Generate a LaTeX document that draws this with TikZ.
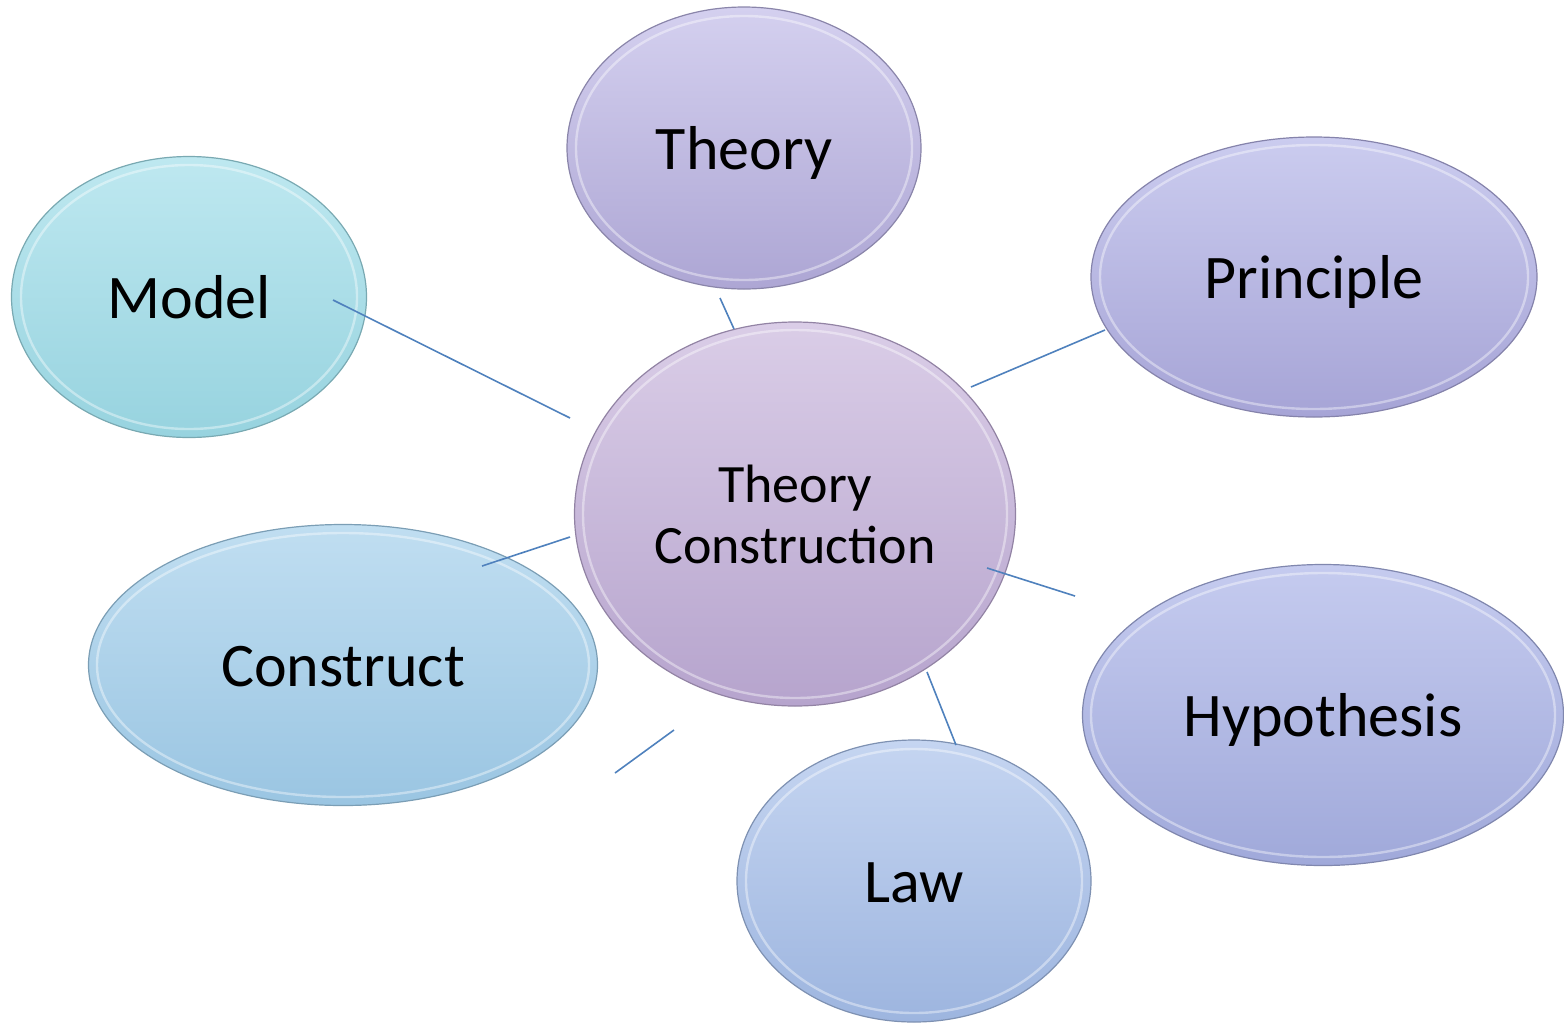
\documentclass[tikz,border=0pt]{standalone}
\usepackage{fontspec}
\setmainfont{Carlito}
\usetikzlibrary{shapes.geometric}
\definecolor{linkblue}{HTML}{4F81BD}
\definecolor{thT}{HTML}{D4D0EF}\definecolor{thB}{HTML}{ADA6D4}
\definecolor{moT}{HTML}{BEE8F0}\definecolor{moB}{HTML}{97D3DF}
\definecolor{prT}{HTML}{CBCCEF}\definecolor{prB}{HTML}{A6A4D6}
\definecolor{tcT}{HTML}{DACDE7}\definecolor{tcB}{HTML}{B6A4CD}
\definecolor{coT}{HTML}{C0DEF1}\definecolor{coB}{HTML}{9AC5E2}
\definecolor{hyT}{HTML}{C5CBEF}\definecolor{hyB}{HTML}{A0A9DA}
\definecolor{laT}{HTML}{C5D5F1}\definecolor{laB}{HTML}{9DB5DF}
\tikzset{
  bubble/.style n args={4}{ellipse, inner sep=0pt, minimum width=#1, minimum height=#2,
    shading=axis, top color=#3, bottom color=#4, draw=#4!80!black, line width=0.6pt,
    font=\fontsize{31}{37}\selectfont, text=black, align=center},
  oneline/.style={text height=21pt, text depth=0pt},
  rim/.style={draw=white, draw opacity=0.4, line width=1.2pt},
  link/.style={draw=linkblue, line width=0.8pt}
}
\begin{document}
\begin{tikzpicture}[x=0.5pt,y=-0.5pt]
\useasboundingbox (0,0) rectangle (1564,1029);
% nodes
\node[bubble={177pt}{141pt}{thT}{thB}, oneline] (theory) at (744,148) {Theory};
\node[bubble={177.5pt}{140.5pt}{moT}{moB}, oneline] (model) at (189,297) {Model};
\node[bubble={223pt}{140pt}{prT}{prB}, oneline] (principle) at (1314,277) {Principle};
\node[bubble={220.5pt}{192pt}{tcT}{tcB}, font=\fontsize{27}{30.5}\selectfont] (tc) at (795,514) {Theory\\Construction};
\node[bubble={254.5pt}{140.5pt}{coT}{coB}, oneline] (construct) at (343,665) {Construct};
\node[bubble={240.5pt}{150.5pt}{hyT}{hyB}, oneline] (hypo) at (1323,715) {Hypothesis};
\node[bubble={177pt}{141pt}{laT}{laB}, oneline] (law) at (914,881) {Law};
% inner highlight rims
\draw[rim] (theory.center) ellipse [x radius=84pt, y radius=66pt];
\draw[rim] (model.center) ellipse [x radius=84pt, y radius=66pt];
\draw[rim] (principle.center) ellipse [x radius=107pt, y radius=66pt];
\draw[rim] (tc.center) ellipse [x radius=106pt, y radius=92pt];
\draw[rim] (construct.center) ellipse [x radius=123pt, y radius=66pt];
\draw[rim] (hypo.center) ellipse [x radius=116pt, y radius=71pt];
\draw[rim] (law.center) ellipse [x radius=84pt, y radius=66pt];
% connector end points
\coordinate (th-a) at (720,298); \coordinate (th-b) at (734,329);
\coordinate (mo-a) at (333,300); \coordinate (mo-b) at (570,418);
\coordinate (pr-a) at (971,387); \coordinate (pr-b) at (1105,330);
\coordinate (co-a) at (482,566); \coordinate (co-b) at (570,537);
\coordinate (hy-a) at (987,568); \coordinate (hy-b) at (1075,596);
\coordinate (la-a) at (927,672); \coordinate (la-b) at (956,745);
\coordinate (x-a) at (615,773); \coordinate (x-b) at (674,730);
\draw[link] (th-a) -- (th-b);
\draw[link] (mo-a) -- (mo-b);
\draw[link] (pr-a) -- (pr-b);
\draw[link] (co-a) -- (co-b);
\draw[link] (hy-a) -- (hy-b);
\draw[link] (la-a) -- (la-b);
\draw[link] (x-a) -- (x-b);
\end{tikzpicture}
\end{document}
